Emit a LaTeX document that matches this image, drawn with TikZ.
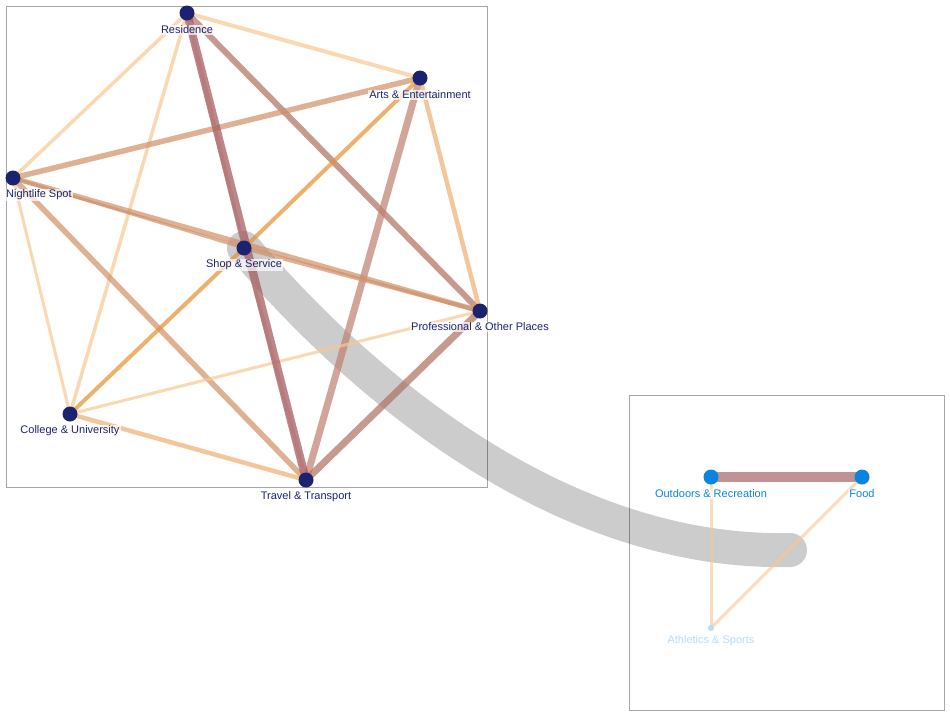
\documentclass[tikz,border=0pt]{standalone}
\usepackage{fontspec}
\setmainfont{Liberation Sans}
\begin{document}
\begin{tikzpicture}[x=1pt,y=-1pt,
  every node/.style={font=\fontsize{11}{13}\selectfont},
  vert/.style={circle,fill=navy,inner sep=0pt,minimum size=15pt},
  vertb/.style={circle,fill=brightblue,inner sep=0pt,minimum size=15pt},
  vertl/.style={circle,fill=paleblue,inner sep=0pt,minimum size=6pt},
  lab/.style={text=navy,fill=white,fill opacity=0.7,text opacity=1,inner sep=1pt},
  labb/.style={text=brightblue,fill=white,fill opacity=0.7,text opacity=1,inner sep=1pt},
  labl/.style={text=paleblue,inner sep=1pt},
  edge/.style={opacity=0.7,line cap=butt},
  frame/.style={draw=gray!70,line width=0.6pt}
]
\definecolor{navy}{HTML}{1B2370}
\definecolor{brightblue}{HTML}{0A84E0}
\definecolor{paleblue}{HTML}{B8DCF8}
\definecolor{ered}{HTML}{A25558}
\definecolor{ebrown}{HTML}{B07060}
\definecolor{erose}{HTML}{C08070}
\definecolor{efood}{HTML}{A86468}
\definecolor{etan}{HTML}{D09068}
\definecolor{eorange}{HTML}{E89030}
\definecolor{elight}{HTML}{F0B070}
\definecolor{epale}{HTML}{F8C890}
\useasboundingbox (0,0) rectangle (950,716);
\fill[white] (0,0) rectangle (950,716);
\draw[frame] (6,6) rectangle (487,487);
\draw[frame] (629,395) rectangle (944,710);

% node coordinates
\coordinate (res) at (187,13);
\coordinate (art) at (420,78);
\coordinate (nig) at (13,178);
\coordinate (sho) at (244,248);
\coordinate (pro) at (480,311);
\coordinate (col) at (70,414);
\coordinate (tra) at (306,480);
\coordinate (out) at (711,477);
\coordinate (foo) at (862,477);
\coordinate (ath) at (711,628);
\coordinate (arcend) at (790,550);

% gray flow
\draw[black,opacity=0.2,line width=34pt,line cap=round] (sho) .. controls (360,385) and (560,555) .. (arcend);

% left edges
\draw[edge,epale,line width=4pt] (res) -- (art);
\draw[edge,epale,line width=3.5pt] (res) -- (nig);
\draw[edge,epale,line width=3.5pt] (res) -- (col);
\draw[edge,ebrown,line width=6pt] (res) -- (pro);
\draw[edge,etan,line width=5.5pt] (art) -- (nig);
\draw[edge,eorange,line width=4pt] (art) -- (sho);
\draw[edge,erose,line width=7pt] (art) -- (tra);
\draw[edge,elight,line width=4.5pt] (art) -- (pro);
\draw[edge,etan,line width=5pt] (nig) -- (pro);
\draw[edge,etan,line width=3pt] (nig) -- (sho);
\draw[edge,epale,line width=3pt] (nig) -- (col);
\draw[edge,etan,line width=5.5pt] (nig) -- (tra);
\draw[edge,eorange,line width=4pt] (sho) -- (col);
\draw[edge,etan,line width=4pt] (sho) -- (pro);
\draw[edge,epale,line width=3pt] (col) -- (pro);
\draw[edge,elight,line width=4.5pt] (col) -- (tra);
\draw[edge,ebrown,line width=7pt] (pro) -- (tra);
\draw[edge,ered,line width=8pt] (res) -- (tra);
\draw[edge,ered!80,line width=4pt] (res) -- (sho);
\draw[edge,ered!80,line width=4pt] (sho) -- (tra);

% right edges
\draw[edge,efood,opacity=0.7,line width=10pt] (out) -- (foo);
\draw[edge,epale,opacity=0.6,line width=3pt] (out) -- (ath);
\draw[edge,epale,opacity=0.6,line width=3pt] (foo) -- (ath);

% vertices
\node[vert] (nres) at (res) {};
\node[vert] (nart) at (art) {};
\node[vert] (nnig) at (nig) {};
\node[vert] (nsho) at (sho) {};
\node[vert] (npro) at (pro) {};
\node[vert] (ncol) at (col) {};
\node[vert] (ntra) at (tra) {};
\node[vertb] (nout) at (out) {};
\node[vertb] (nfoo) at (foo) {};
\node[vertl] (nath) at (ath) {};

% labels
\node[lab] (lres) at (187,30) {Residence};
\node[lab] (lart) at (420,95) {Arts \& Entertainment};
\node[lab,anchor=west] (lnig) at (5,195) {Nightlife Spot};
\node[lab] (lsho) at (244,265) {Shop \& Service};
\node[lab] (lpro) at (480,327) {Professional \& Other Places};
\node[lab] (lcol) at (70,431) {College \& University};
\node[lab] (ltra) at (306,497) {Travel \& Transport};
\node[labb] (lout) at (711,494) {Outdoors \& Recreation};
\node[labb] (lfoo) at (862,494) {Food};
\node[labl] (lath) at (711,641) {Athletics \& Sports};
\end{tikzpicture}
\end{document}
